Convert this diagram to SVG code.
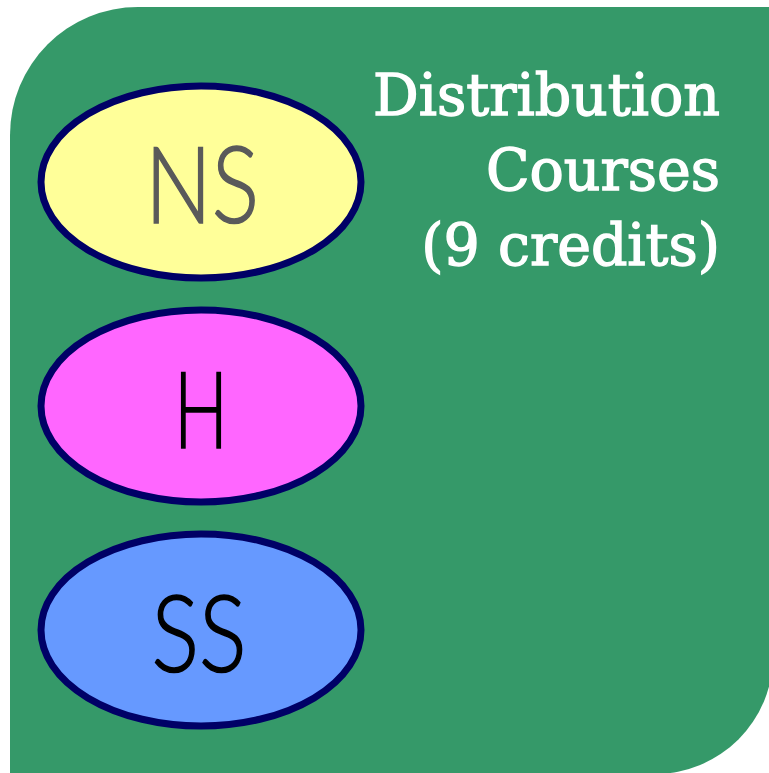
<svg xmlns="http://www.w3.org/2000/svg" width="769" height="773" viewBox="0 0 769 773">
  <style>
    .panel { fill: #359969; }
    .area { stroke: #000066; stroke-width: 7; }
    .abbr { font-family: "Lato", "Open Sans", sans-serif; font-weight: 300; font-size: 106px; text-anchor: middle; stroke-width: 1.6; }
    .title { font-family: "DejaVu Serif", "Liberation Serif", serif; font-size: 57px; fill: #ffffff; stroke: #ffffff; stroke-width: 1.4; text-anchor: end; }
  </style>
  <rect width="769" height="773" fill="#ffffff"/>
  <!-- background panel: rounded top-left and bottom-right corners (bottom-right runs slightly past the edge) -->
  <path class="panel" d="M138,7 L773,7 L773,656 A118,118 0 0 1 655,774 L10,774 L10,135 A128,128 0 0 1 138,7 Z"/>
  <g id="title">
    <text class="title" x="720" y="115">Distribution</text>
    <text class="title" x="720" y="190">Courses</text>
    <text class="title" x="720" y="265">(9 credits)</text>
  </g>
  <g id="ns">
    <ellipse class="area" cx="201" cy="182" rx="160" ry="96" fill="#ffff99"/>
    <text class="abbr" x="202" y="223" fill="#5a5a5a" stroke="#5a5a5a" textLength="114" lengthAdjust="spacingAndGlyphs">NS</text>
  </g>
  <g id="h">
    <ellipse class="area" cx="201" cy="406" rx="160" ry="96" fill="#ff66ff"/>
    <text class="abbr" x="201" y="448" fill="#000000" stroke="#000000" textLength="54" lengthAdjust="spacingAndGlyphs">H</text>
  </g>
  <g id="ss">
    <ellipse class="area" cx="201" cy="630" rx="160" ry="96" fill="#6699ff"/>
    <text class="abbr" x="199" y="672" fill="#000000" stroke="#000000" textLength="95" lengthAdjust="spacingAndGlyphs">SS</text>
  </g>
</svg>
